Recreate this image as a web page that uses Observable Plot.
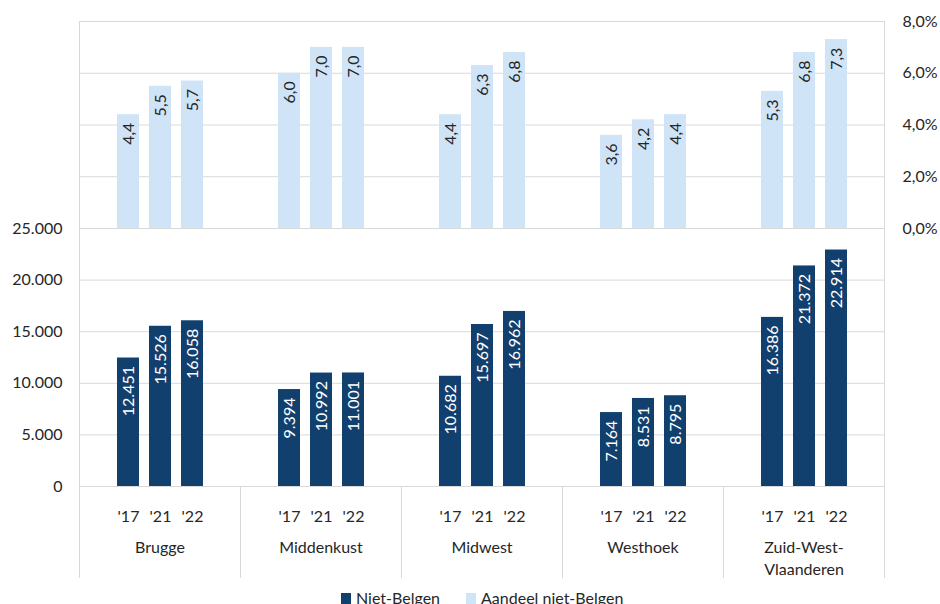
<!DOCTYPE html>
<html><head><meta charset="utf-8">
<script src="https://cdn.jsdelivr.net/npm/d3@7"></script>
<script src="https://cdn.jsdelivr.net/npm/@observablehq/plot@0.6"></script>
<style>
body{margin:0;background:#fff;}
#c{position:relative;width:940px;height:604px;overflow:hidden;font-family:Lato,sans-serif;background:#fff;}
#c svg{position:absolute;left:0;}
#legend{position:absolute;left:341px;top:588px;display:flex;align-items:center;font-size:16px;line-height:20px;color:#262626;white-space:nowrap;}
#legend .sw{display:inline-block;width:10px;height:11px;margin-right:5px;}
#legend .it{display:flex;align-items:center;margin-right:26px;}
</style></head><body><div id="c"><div id="legend"></div></div>
<script>
// ---- data ----
const groups = ["Brugge", "Middenkust", "Midwest", "Westhoek", "Zuid-West-Vlaanderen"];
const groupLabels = ["Brugge", "Middenkust", "Midwest", "Westhoek", "Zuid-West-\nVlaanderen"];
const years = ["'17", "'21", "'22"];
// Niet-Belgen (count), per group: '17, '21, '22
const nietBelgen = [12451, 15526, 16058, 9394, 10992, 11001, 10682, 15697, 16962, 7164, 8531, 8795, 16386, 21372, 22914];
// Aandeel niet-Belgen (%), per group: '17, '21, '22
const aandeel = [4.4, 5.5, 5.7, 6.0, 7.0, 7.0, 4.4, 6.3, 6.8, 3.6, 4.2, 4.4, 5.3, 6.8, 7.3];
const countTicks = [0, 5000, 10000, 15000, 20000, 25000];
const pctTicks = [0, 2, 4, 6, 8];
const seriesNames = ["Niet-Belgen", "Aandeel niet-Belgen"];

const rows = [];
groups.forEach((g, gi) => years.forEach((y, yi) => {
  const k = gi * years.length + yi;
  rows.push({group: g, year: y, count: nietBelgen[k], pct: aandeel[k]});
}));

const nl = d3.formatLocale({decimal: ",", thousands: ".", grouping: [3], currency: ["€", ""]});
const fInt = nl.format(",d"), f1 = nl.format(".1f");

const DARK = "#12406e", LIGHT = "#d0e4f7", GRID = "#d9d9d9", INK = "#262626";
const common = {
  width: 940, marginLeft: 78, marginRight: 56,
  fx: {domain: groups, padding: 0, axis: null},
  x: {type: "band", domain: years, paddingInner: 0.32, paddingOuter: 1.16, axis: null},
  style: {background: "transparent", fontFamily: "Lato, sans-serif", fontSize: "16px", color: INK, overflow: "visible"}
};

const topPlot = Plot.plot({
  ...common, height: 229, marginTop: 21, marginBottom: 1,
  y: {domain: [0, 8], label: null},
  marks: [
    Plot.ruleY(pctTicks.slice(1), {stroke: GRID}),
    Plot.frame({anchor: "left", stroke: GRID, facet: "super"}),
    Plot.frame({anchor: "right", stroke: GRID, facet: "super"}),
    Plot.barY(rows, {fx: "group", x: "year", y: "pct", fill: LIGHT}),
    Plot.text(rows, {fx: "group", x: "year", y: "pct", text: d => f1(d.pct), rotate: -90, textAnchor: "end", dy: 8, fill: INK}),
    Plot.axisY({anchor: "right", ticks: pctTicks, tickSize: 0, tickPadding: 18, tickFormat: d => f1(d) + "%", fill: INK, label: null})
  ]
});
topPlot.style.top = "0px";

const botPlot = Plot.plot({
  ...common, height: 280, marginTop: 20, marginBottom: 2,
  y: {domain: [0, 25000], label: null},
  marks: [
    Plot.ruleY(countTicks, {stroke: GRID}),
    Plot.frame({anchor: "left", stroke: GRID, facet: "super"}),
    Plot.frame({anchor: "right", stroke: GRID, facet: "super"}),
    Plot.barY(rows, {fx: "group", x: "year", y: "count", fill: DARK}),
    Plot.text(rows, {fx: "group", x: "year", y: "count", text: d => fInt(d.count), rotate: -90, textAnchor: "end", dy: 8, fill: "white"}),
    Plot.axisY({anchor: "left", ticks: countTicks, tickSize: 0, tickPadding: 17, tickFormat: d => fInt(d), fill: INK, label: null})
  ]
});
botPlot.style.top = "208px";

const axisPlot = Plot.plot({
  ...common, height: 100, marginTop: 0, marginBottom: 9,
  marks: [
    Plot.frame({anchor: "left", stroke: GRID}),
    Plot.frame({anchor: "right", stroke: GRID, facet: "super"}),
    Plot.text(rows, {fx: "group", x: "year", text: "year", frameAnchor: "top", dy: 24, fill: INK}),
    Plot.text(groups, {fx: d => d, text: (d, i) => groupLabels[i], frameAnchor: "top", lineAnchor: "top", dy: 51, lineHeight: 1.375, fill: INK})
  ]
});
axisPlot.style.top = "486px";

const c = document.getElementById("c");
c.append(topPlot, botPlot, axisPlot);

const legend = document.getElementById("legend");
[[seriesNames[0], DARK], [seriesNames[1], LIGHT]].forEach(([name, col]) => {
  const it = document.createElement("span"); it.className = "it";
  const sw = document.createElement("span"); sw.className = "sw"; sw.style.background = col;
  it.append(sw, document.createTextNode(name));
  legend.append(it);
});
</script></body></html>
